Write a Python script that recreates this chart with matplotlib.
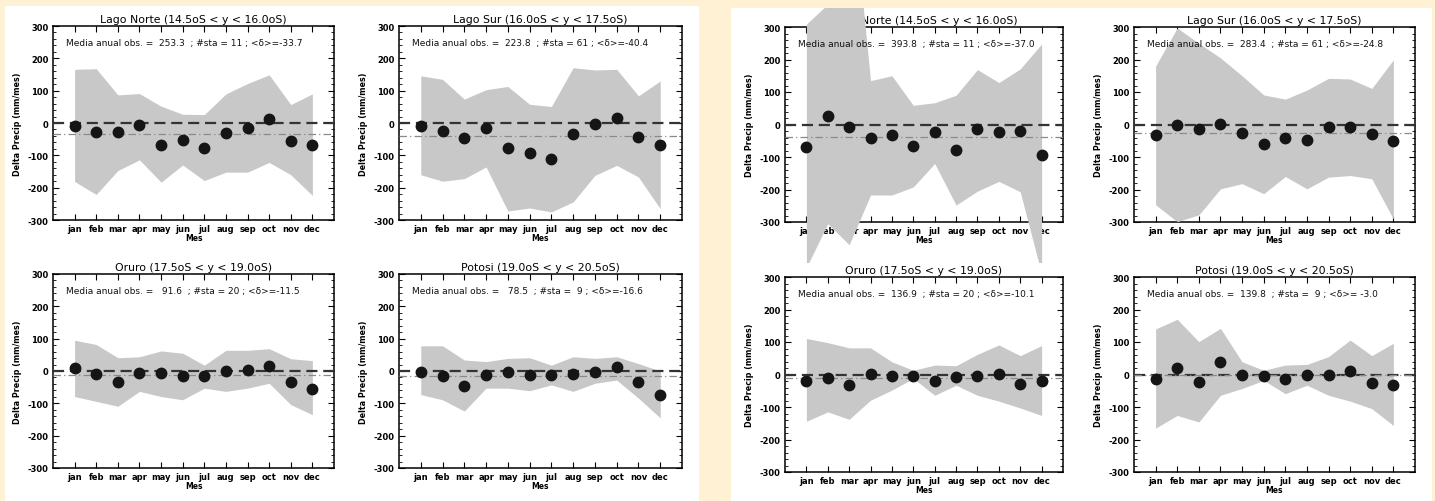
import matplotlib
matplotlib.use("Agg")
import matplotlib.pyplot as plt
from matplotlib.patches import Rectangle
from matplotlib.ticker import MultipleLocator

# ---- data (mm/mes) ----
months = list(range(1, 13))
month_labels = ["jan", "feb", "mar", "apr", "may", "jun",
                "jul", "aug", "sep", "oct", "nov", "dec"]
regions = ["Lago Norte (14.5oS < y < 16.0oS)", "Lago Sur (16.0oS < y < 17.5oS)",
           "Oruro (17.5oS < y < 19.0oS)", "Potosi (19.0oS < y < 20.5oS)"]
n_sta = [11, 61, 20, 9]

# left panel
left_obs_mean = [253.3, 223.8, 91.6, 78.5]
left_delta = [-33.7, -40.4, -11.5, -16.6]
left_points = [
    [-9, -28, -29, -7, -68, -53, -77, -30, -15, 13, -55, -68],
    [-8, -26, -47, -16, -78, -94, -110, -35, -4, 17, -43, -67],
    [8, -9, -35, -7, -5, -14, -17, 0, 4, 16, -33, -55],
    [-2, -14, -45, -12, -4, -12, -12, -9, -2, 12, -35, -73],
]
left_upper = [
    [166, 168, 87, 91, 52, 27, 26, 90, 122, 149, 57, 90],
    [146, 135, 74, 103, 113, 58, 51, 171, 164, 166, 84, 130],
    [95, 82, 41, 44, 62, 55, 18, 64, 64, 69, 38, 32],
    [78, 78, 34, 29, 39, 41, 18, 44, 39, 44, 23, 0],
]
left_lower = [
    [-181, -221, -147, -114, -183, -130, -178, -152, -152, -122, -160, -224],
    [-160, -180, -172, -136, -272, -263, -275, -244, -162, -131, -167, -265],
    [-79, -94, -109, -63, -79, -89, -53, -63, -53, -38, -104, -135],
    [-73, -89, -124, -53, -53, -61, -43, -63, -38, -28, -84, -145],
]

# right panel
right_obs_mean = [393.8, 283.4, 136.9, 139.8]
right_delta = [-37.0, -24.8, -10.1, -3.0]
right_points = [
    [-69, 27, -7, -43, -33, -67, -23, -79, -15, -23, -19, -94],
    [-33, -2, -14, 3, -25, -61, -41, -48, -9, -7, -28, -52],
    [-19, -12, -31, 3, -4, -4, -21, -7, -6, 3, -28, -21],
    [-14, 21, -23, 39, 0, -5, -15, -2, -2, 11, -25, -33],
]
right_upper = [
    [309, 370, 800, 135, 150, 59, 67, 90, 169, 129, 171, 248],
    [180, 297, 250, 205, 150, 91, 78, 106, 142, 140, 111, 199],
    [111, 98, 82, 82, 39, 13, 29, 27, 62, 91, 58, 89],
    [140, 170, 101, 142, 39, 13, 29, 31, 55, 106, 58, 96],
]
right_lower = [
    [-440, -305, -370, -217, -217, -192, -120, -248, -205, -175, -207, -460],
    [-247, -299, -278, -198, -182, -213, -160, -198, -162, -157, -167, -291],
    [-144, -115, -138, -79, -48, -12, -64, -33, -64, -82, -103, -126],
    [-165, -126, -146, -64, -43, -18, -59, -33, -64, -82, -105, -157],
]

W, H = 1435, 502
CREAM = "#fef1d4"
BAND = "#c8c8c8"

plt.rcParams["axes.unicode_minus"] = False
plt.rcParams["font.family"] = ["DejaVu Sans"]

fig = plt.figure(figsize=(W / 100, H / 100), dpi=100, facecolor=CREAM)


def px_rect(l, t, r, b):
    return [l / W, 1 - b / H, (r - l) / W, (b - t) / H]


def fig_box(l, t, r, b, **kw):
    x, y, w, h = px_rect(l, t, r, b)
    return Rectangle((x, y), w, h, transform=fig.transFigure, **kw)


# white page backgrounds of the two panels (drawn under the axes)
panel_boxes = [(5, 7, 699, 502), (731, 9, 1432, 502)]
for box in panel_boxes:
    fig.patches.append(fig_box(*box, facecolor="white", edgecolor="none", zorder=-1))

axes_boxes = [
    [(53, 27, 334, 221), (399, 27, 682, 221), (53, 275, 334, 469), (399, 275, 682, 469)],
    [(785, 28, 1063, 223), (1134, 28, 1415, 223), (785, 278, 1063, 473), (1134, 278, 1415, 473)],
]
panels = [
    (left_obs_mean, left_delta, left_points, left_upper, left_lower),
    (right_obs_mean, right_delta, right_points, right_upper, right_lower),
]

for p, (obs, delta, pts, hi, lo) in enumerate(panels):
    pl, pt, pr, pb = panel_boxes[p]
    for i in range(4):
        ax = fig.add_axes(px_rect(*axes_boxes[p][i]), facecolor="none")

        band = ax.fill_between(months, lo[i], hi[i], color=BAND, lw=0, zorder=3.2)
        # the band is allowed to spill out of the frame, up to the row of the page
        row = (pt, 263) if i < 2 else (263, pb)
        band.set_clip_path(fig_box(pl, row[0], pr, row[1]))

        ax.axhline(0, color="#333333", lw=1.6, dashes=(5, 2.6), zorder=4)
        ax.axhline(delta[i], color="#8a8a8a", lw=0.9, dashes=(6, 2.5, 1, 2.5), zorder=4)
        ax.plot(months, pts[i], "o", color="#151515", ms=7.5, zorder=5)

        ax.text(0.045, 0.9, f"Media anual obs. = {obs[i]:6.1f}  ; #sta = {n_sta[i]:2d} ; <δ>={delta[i]:5.1f}",
                transform=ax.transAxes, fontsize=6.5, color="#111111", zorder=6)

        ax.set_xlim(0, 13)
        ax.set_ylim(-300, 300)
        ax.set_xticks(months)
        ax.set_xticklabels(month_labels)
        ax.yaxis.set_major_locator(MultipleLocator(100))
        ax.yaxis.set_minor_locator(MultipleLocator(20))
        ax.tick_params(direction="in", top=True, right=True, labelsize=6, length=4.5,
                       width=0.8, pad=3)
        ax.tick_params(axis="y", which="minor", direction="in", right=True, length=2, width=0.6)
        for lab in ax.get_xticklabels() + ax.get_yticklabels():
            lab.set_fontweight("bold")
        for s in ax.spines.values():
            s.set_linewidth(1.1)

        ax.set_title(regions[i], fontsize=7.8, pad=3)
        ax.set_xlabel("Mes", fontsize=5.5, fontweight="bold", labelpad=0)
        ax.set_ylabel("Delta Precip (mm/mes)", fontsize=5.8, fontweight="bold", labelpad=4)

fig.savefig("out.png", dpi=100, facecolor=CREAM)
